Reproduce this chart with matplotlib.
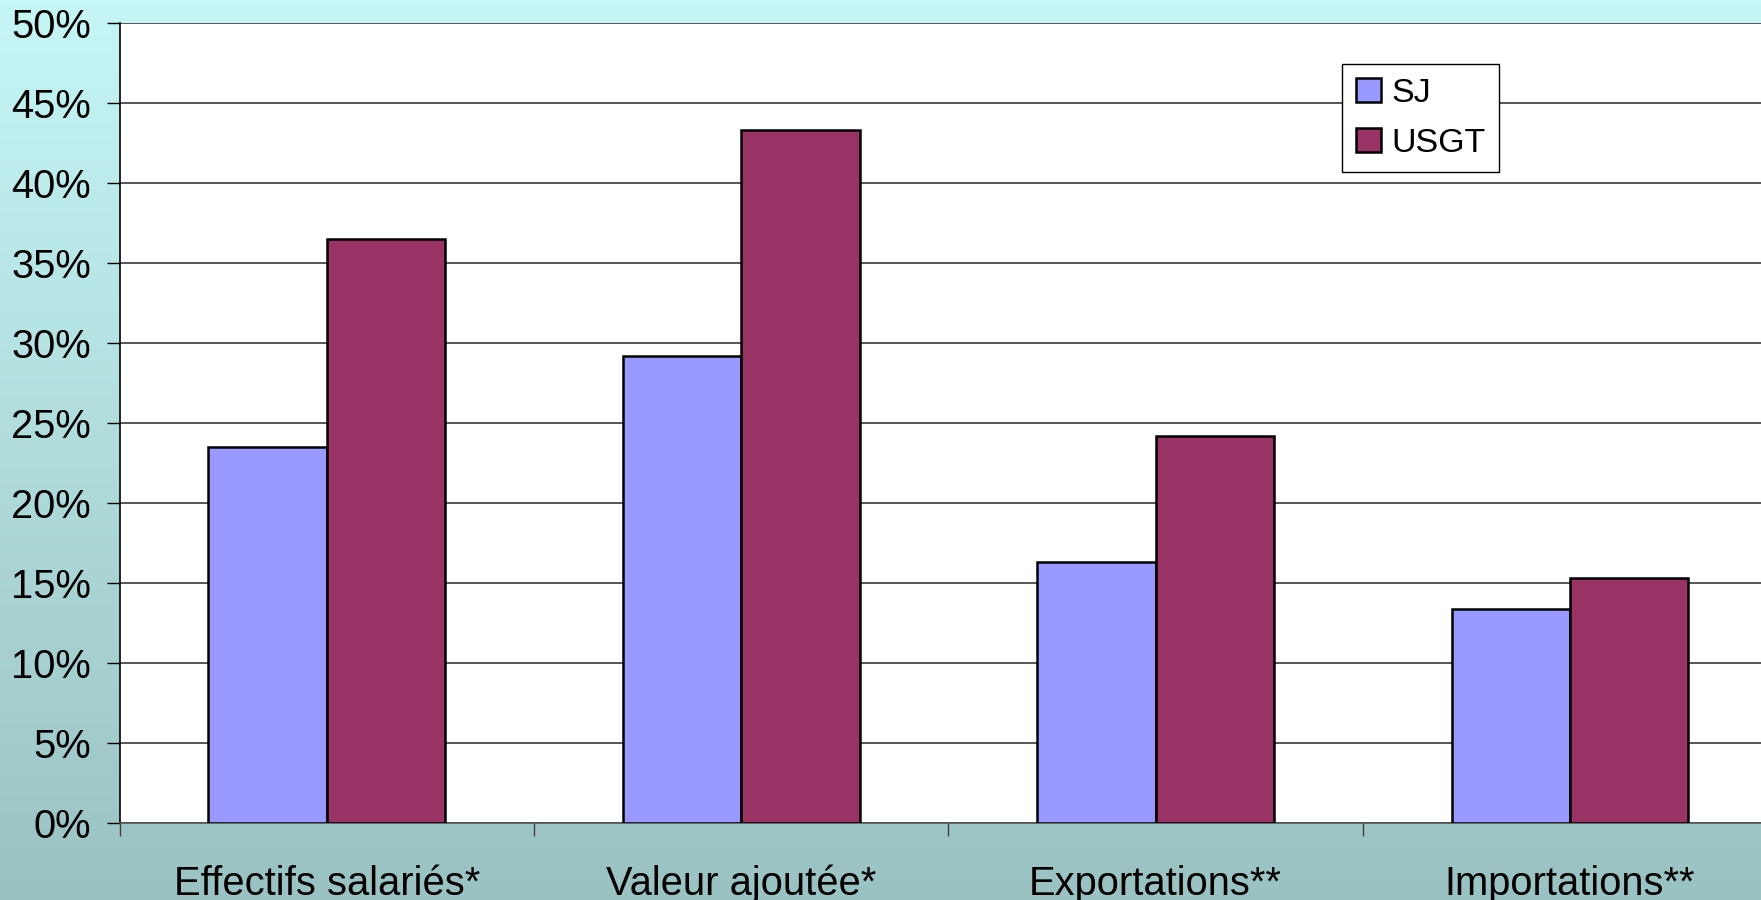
import numpy as np
import matplotlib.pyplot as plt
from matplotlib.colors import LinearSegmentedColormap
from matplotlib.ticker import FixedLocator, PercentFormatter

plt.rcParams['font.family'] = ['Liberation Sans', 'DejaVu Sans']

categories = ["Effectifs salariés*", "Valeur ajoutée*", "Exportations**", "Importations**"]
series_names = ["SJ", "USGT"]
sj = [23.5, 29.2, 16.3, 13.4]
usgt = [36.5, 43.3, 24.2, 15.3]
colors = ["#9999FF", "#993366"]

fig = plt.figure(figsize=(17.61, 9.0), dpi=100)

# vertical gradient behind everything
bg = fig.add_axes([0, 0, 1, 1], zorder=-10)
grad = LinearSegmentedColormap.from_list("bg", ["#9BC2C2", "#C6F6F6"])
bg.imshow(np.linspace(0, 1, 256).reshape(-1, 1), cmap=grad, aspect="auto",
          origin="lower", extent=[0, 1, 0, 1])
bg.axis("off")

ax = fig.add_axes([119.5 / 1761, 77 / 900, 4 * 414.4 / 1761, 800 / 900])
ax.set_facecolor("white")

x = np.arange(len(categories))
w = 1 / 3.5
ax.bar(x - w / 2, sj, w, color=colors[0], edgecolor="black", linewidth=1.8,
       label=series_names[0], zorder=3)
ax.bar(x + w / 2, usgt, w, color=colors[1], edgecolor="black", linewidth=1.8,
       label=series_names[1], zorder=3)

ax.set_xlim(-0.5, len(categories) - 0.5)
ax.set_ylim(0, 50)
ax.set_yticks(np.arange(0, 51, 5))
ax.yaxis.set_major_formatter(PercentFormatter(decimals=0))
ax.yaxis.grid(True, color="#3a3a3a", linewidth=1.2, zorder=1)

ax.set_xticks(x)
ax.set_xticklabels(categories)
ax.xaxis.set_minor_locator(FixedLocator(np.arange(-0.5, len(categories), 1)))
ax.tick_params(axis="x", which="major", length=0, pad=30, labelsize=28.7)
ax.tick_params(axis="x", which="minor", length=9.5, width=1, color="#404040")
ax.tick_params(axis="y", length=9.5, width=1, pad=11, labelsize=28.7)

for side in ["top", "right"]:
    ax.spines[side].set_visible(False)
ax.spines["left"].set_color("black")
ax.spines["left"].set_linewidth(1.2)
ax.spines["bottom"].set_color("#555555")
ax.spines["bottom"].set_linewidth(1.2)

leg = ax.legend(loc="upper left", bbox_to_anchor=(1342 / 1761, 1 - 64 / 900),
                bbox_transform=fig.transFigure, borderaxespad=0,
                fontsize=24.5, handlelength=0.74, handleheight=0.74,
                handletextpad=0.3, labelspacing=0.55, borderpad=0.4,
                fancybox=False, framealpha=1, edgecolor="black")
leg.get_frame().set_linewidth(1.0)

fig.savefig("out.png", dpi=100)
